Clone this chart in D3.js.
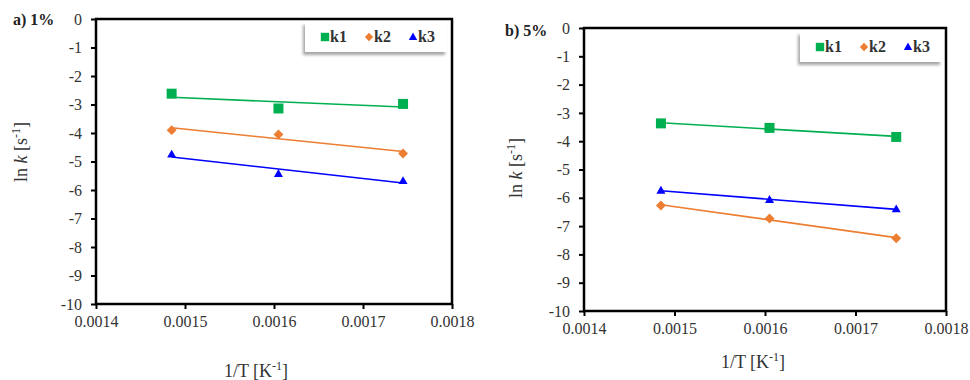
<!DOCTYPE html>
<html lang="en">
<head>
  <meta charset="UTF-8">
  <title>ln k vs 1/T</title>
  <script src="https://d3js.org/d3.v7.min.js"></script>
  <style>
    body { margin: 0; background: #fff; }
    svg, svg text { font-family: "Liberation Serif", "Times New Roman", Times, serif; }
  </style>
</head>
<body>
<svg id="chart" width="970" height="380"></svg>
<script>
  // 1/T values shared by both panels [K^-1]
  const invT = [0.001485, 0.001605, 0.001745];
  const seriesNames = ["k1", "k2", "k3"];
  const seriesColors = ["#00B050", "#ED7D31", "#0000FF"];

  // panel a) 1%
  const k1_1pct = [-2.62, -3.14, -2.98];
  const k2_1pct = [-3.90, -4.05, -4.72];
  const k3_1pct = [-4.75, -5.43, -5.68];

  // panel b) 5%
  const k1_5pct = [-3.37, -3.53, -3.85];
  const k2_5pct = [-6.27, -6.73, -7.43];
  const k3_5pct = [-5.74, -6.07, -6.40];

  const xTicks = [0.0014, 0.0015, 0.0016, 0.0017, 0.0018];
  const yTicks = [0, -1, -2, -3, -4, -5, -6, -7, -8, -9, -10];

  const svg = d3.select("#chart");
  const FONT = '"Liberation Serif", "Times New Roman", Times, serif';

  const defs = svg.append("defs");
  const f = defs.append("filter").attr("id", "shadow")
    .attr("x", "-20%").attr("y", "-30%").attr("width", "140%").attr("height", "170%");
  f.append("feDropShadow").attr("dx", -2).attr("dy", 3).attr("stdDeviation", 1.5)
    .attr("flood-color", "#000").attr("flood-opacity", 0.35);

  // square, diamond (rotated square), triangle
  const markerPath = [
    s => `M${-s},${-s}H${s}V${s}H${-s}Z`,
    s => `M0,${-s * 1.15}L${s * 1.15},0L0,${s * 1.15}L${-s * 1.15},0Z`,
    s => `M0,${-s * 1.1}L${s * 1.05},${s * 0.75}L${-s * 1.05},${s * 0.75}Z`
  ];
  const markerSize = [5, 4.3, 4.3];
  const legendSize = [4.2, 3.6, 4.0];

  function linFit(xs, ys) {
    const mx = d3.mean(xs), my = d3.mean(ys);
    let sxy = 0, sxx = 0;
    xs.forEach((x, i) => { sxy += (x - mx) * (ys[i] - my); sxx += (x - mx) * (x - mx); });
    const b = sxy / sxx;
    return x => my + b * (x - mx);
  }

  function drawPanel(p) {
    const g = svg.append("g");
    const x = d3.scaleLinear().domain([0.0014, 0.0018]).range([p.left, p.right]);
    const y = d3.scaleLinear().domain([-10, 0]).range([p.bottom, p.top]);

    // frame
    g.append("rect")
      .attr("x", p.left).attr("y", p.top)
      .attr("width", p.right - p.left).attr("height", p.bottom - p.top)
      .attr("fill", "none").attr("stroke", "#000").attr("stroke-width", 2.5);

    const xAxis = g.append("g")
      .attr("transform", `translate(0,${p.bottom})`)
      .call(d3.axisBottom(x).tickValues(xTicks).tickFormat(d3.format(".4f")).tickSize(5).tickPadding(7));
    const yAxis = g.append("g")
      .attr("transform", `translate(${p.left},0)`)
      .call(d3.axisLeft(y).tickValues(yTicks).tickFormat(d => d).tickSize(5).tickPadding(9));
    [xAxis, yAxis].forEach(ax => {
      ax.attr("font-family", FONT).attr("font-size", 16);
      ax.select(".domain").remove();
      ax.selectAll(".tick line").attr("stroke", "#000").attr("stroke-width", 2);
      ax.selectAll(".tick text").attr("fill", "#333");
    });

    // series: trend line + markers
    p.series.forEach((vals, i) => {
      const fit = linFit(invT, vals);
      const x0 = d3.min(invT), x1 = d3.max(invT);
      g.append("line")
        .attr("x1", x(x0)).attr("y1", y(fit(x0)))
        .attr("x2", x(x1)).attr("y2", y(fit(x1)))
        .attr("stroke", seriesColors[i]).attr("stroke-width", 1.6);
      g.selectAll(null).data(invT.map((t, j) => [t, vals[j]]))
        .enter().append("path")
        .attr("transform", d => `translate(${x(d[0])},${y(d[1])})`)
        .attr("d", markerPath[i](markerSize[i]))
        .attr("fill", seriesColors[i]);
    });

    // legend
    const lg = g.append("g");
    lg.append("rect")
      .attr("x", p.legX).attr("y", p.legY).attr("width", 142).attr("height", 30)
      .attr("fill", "#fff").attr("filter", "url(#shadow)");
    const itemX = [0, 44, 88];
    seriesNames.forEach((name, i) => {
      const cx = p.legX + 20 + itemX[i];
      const cy = p.legY + 15;
      lg.append("path")
        .attr("transform", `translate(${cx},${cy})`)
        .attr("d", markerPath[i](legendSize[i]))
        .attr("fill", seriesColors[i]);
      lg.append("text")
        .attr("x", cx + 5).attr("y", cy + 5)
        .attr("font-size", 16).attr("font-weight", "bold").attr("fill", "#333")
        .text(name);
    });

    // panel label
    g.append("text")
      .attr("x", p.labelX).attr("y", p.labelY)
      .attr("font-size", 16).attr("font-weight", "bold").attr("fill", "#222")
      .text(p.label);

    // axis titles
    const xt = g.append("text")
      .attr("x", p.xTitleX).attr("y", p.xTitleY)
      .attr("text-anchor", "middle").attr("font-size", 18).attr("fill", "#333");
    xt.append("tspan").text("1/T [K");
    xt.append("tspan").attr("dy", -7).attr("font-size", 12).text("-1");
    xt.append("tspan").attr("dy", 7).text("]");

    const yt = g.append("text")
      .attr("transform", `translate(${p.yTitleX},${p.yTitleY}) rotate(-90)`)
      .attr("text-anchor", "middle").attr("font-size", 18).attr("fill", "#333");
    yt.append("tspan").text("ln ");
    yt.append("tspan").attr("font-style", "italic").text("k");
    yt.append("tspan").text(" [s");
    yt.append("tspan").attr("dy", -7).attr("font-size", 12).text("-1");
    yt.append("tspan").attr("dy", 7).text("]");
  }

  drawPanel({
    left: 96, right: 452, top: 19, bottom: 304,
    series: [k1_1pct, k2_1pct, k3_1pct],
    legX: 305, legY: 22,
    label: "a) 1%", labelX: 13, labelY: 25,
    xTitleX: 256, xTitleY: 377, yTitleX: 27, yTitleY: 152
  });

  drawPanel({
    left: 584, right: 946, top: 28, bottom: 311,
    series: [k1_5pct, k2_5pct, k3_5pct],
    legX: 800, legY: 32,
    label: "b) 5%", labelX: 505, labelY: 36,
    xTitleX: 753, xTitleY: 368, yTitleX: 522, yTitleY: 168
  });
</script>
</body>
</html>
